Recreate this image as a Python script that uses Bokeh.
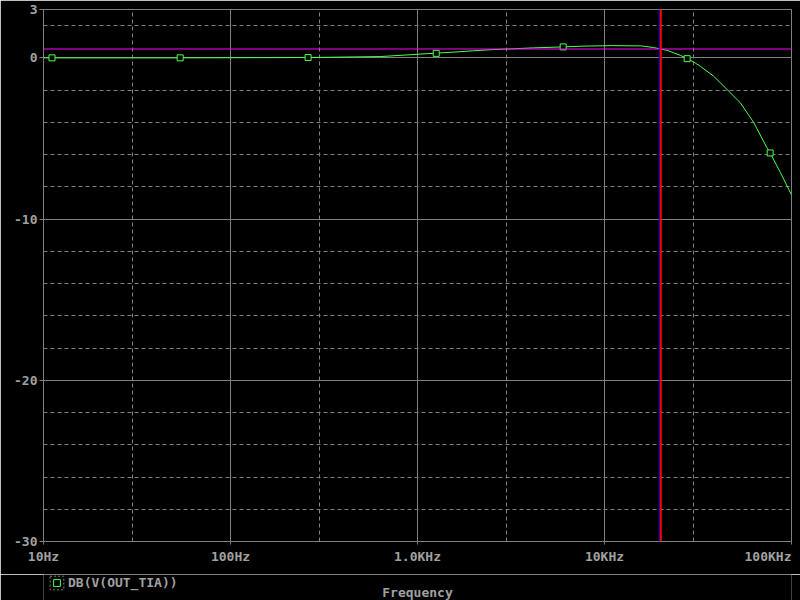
import re
from bokeh.plotting import figure
from bokeh.layouts import column
from bokeh.models import FixedTicker, Span, Legend, LegendItem, Label
from bokeh.embed import file_html
from bokeh.resources import INLINE

# ---- data (PSpice-style AC sweep) ----
freq_hz = [10, 11.1, 53.8, 260, 632, 877, 1122, 1625, 1991, 2500, 3199, 4170,
           6012, 7785, 10990, 15700, 18280, 21570, 25420, 27670, 29920, 32500,
           38300, 45200, 53200, 62700, 73800, 76900, 87100, 100000]
gain_db = [0.0, 0.0, 0.0, 0.02, 0.08, 0.18, 0.26, 0.37, 0.44, 0.51, 0.56, 0.62,
           0.68, 0.73, 0.76, 0.74, 0.64, 0.47, 0.16, -0.05, -0.25, -0.52,
           -1.13, -1.96, -2.78, -4.0, -5.56, -5.9, -7.1, -8.5]
marker_hz = [11.1, 53.8, 260, 1259, 6012, 27670, 76900]
marker_db = [0.0, 0.0, 0.02, 0.28, 0.68, -0.05, -5.9]

x_tick_vals = [10, 100, 1000, 10000, 100000]
x_tick_labels = ["10Hz", "100Hz", "1.0KHz", "10KHz", "100KHz"]
x_minor_vals = [30, 300, 3000, 30000]
y_tick_vals = [-30, -20, -10, 0, 3]
y_tick_labels = ["-30", "-20", "-10", "0", "3"]
y_minor_vals = [-28, -26, -24, -22, -18, -16, -14, -12, -8, -6, -4, -2, 2]
cursor_x_hz = 20000
cursor_x2_hz = 19600
cursor_y_db = 0.55
series_name = "DB(V(OUT_TIA))"
x_title = "Frequency"

FONT = "DejaVu Sans Mono"
FS = "13px"
TXT = "#a0a0a0"
GRID = "#808080"
GREEN = "#4cff4c"

p = figure(width=800, height=574, x_axis_type="log",
           x_range=(10, 100000), y_range=(-30, 3),
           output_backend="svg", toolbar_location=None,
           background_fill_color="#000000", border_fill_color="#000000",
           min_border_left=43, min_border_right=9,
           min_border_top=9, min_border_bottom=23)
p.outline_line_color = GRID

xt = FixedTicker(ticks=x_tick_vals, minor_ticks=x_minor_vals)
yt = FixedTicker(ticks=y_tick_vals, minor_ticks=y_minor_vals)

xa = p.xaxis[0]
ya = p.yaxis[0]
xa.ticker = xt
ya.ticker = yt
xo = {v: l for v, l in zip(x_tick_vals, x_tick_labels)}
xo[x_tick_vals[-1]] = ""
xa.major_label_overrides = xo
ya.major_label_overrides = {v: l for v, l in zip(y_tick_vals, y_tick_labels)}

for ax in (xa, ya):
    ax.axis_line_color = GRID
    ax.major_tick_line_color = GRID
    ax.major_tick_out = 4
    ax.major_tick_in = 0
    ax.minor_tick_line_color = None
    ax.major_label_text_color = TXT
    ax.major_label_text_font = FONT
    ax.major_label_text_font_size = FS
    ax.major_label_text_font_style = "bold"
xa.major_tick_out = 3
xa.major_label_standoff = 3
ya.major_label_standoff = 2

# the last tick label sits right-aligned on its tick (as in the reference)
xa.axis_label = x_tick_labels[-1]
xa.axis_label_align = "end"
xa.axis_label_orientation = 1e-9
xa.axis_label_standoff = -10
xa.axis_label_text_color = TXT
xa.axis_label_text_font = FONT
xa.axis_label_text_font_size = FS
xa.axis_label_text_font_style = "bold"

for g, t in ((p.xgrid[0], xt), (p.ygrid[0], yt)):
    g.ticker = t
    g.grid_line_color = GRID
    g.grid_line_width = 1
    g.minor_grid_line_color = GRID
    g.minor_grid_line_dash = "4 3"
    g.minor_grid_line_width = 1

# cursors
p.add_layout(Span(location=cursor_y_db, dimension="width",
                  line_color="#ff00ff", line_width=1))
p.add_layout(Span(location=cursor_x2_hz, dimension="height",
                  line_color="#0000ff", line_width=1))
p.add_layout(Span(location=cursor_x_hz, dimension="height",
                  line_color="#ff0000", line_width=2))

# trace
p.line(freq_hz, gain_db, line_color=GREEN, line_width=1)
p.scatter(marker_hz, marker_db, marker="square", size=6,
          line_color=GREEN, fill_color="#000000", line_width=1)

# ---- strip below the plot: legend + x title ----
q = figure(width=800, height=26, x_range=(0, 1), y_range=(0, 1),
           x_axis_location=None, y_axis_location=None,
           output_backend="svg", toolbar_location=None,
           background_fill_color="#000000", border_fill_color="#000000",
           min_border_left=34, min_border_right=0,
           min_border_top=0, min_border_bottom=0)
q.outline_line_color = None
for g in q.grid:
    g.visible = False
    g.grid_line_color = None
# legend proxies (their points fall outside this strip's ranges)
q_box = q.rect(marker_hz, marker_db, width=14, height=14,
               width_units="screen", height_units="screen", fill_color=None,
               line_color=GRID, line_dash="2 2", line_width=1)
q_mk = q.scatter(marker_hz, marker_db, marker="square", size=6,
                 line_color=GREEN, fill_color="#000000", line_width=1)
legend = Legend(items=[LegendItem(label=series_name, renderers=[q_box, q_mk])],
                location=(5, 9), margin=0, padding=0,
                border_line_alpha=0, background_fill_alpha=0,
                glyph_width=17, glyph_height=17, label_standoff=3,
                label_text_font=FONT, label_text_font_size=FS,
                label_text_font_style="bold", label_text_color=TXT)
q.add_layout(legend)
q.add_layout(Label(x=0.5, y=8, y_units="screen", text=x_title,
                   text_align="center", text_baseline="middle",
                   text_color=TXT, text_font=FONT, text_font_size=FS,
                   text_font_style="bold"))

layout = column(p, q, spacing=0)

html = file_html(layout, INLINE)
html = re.sub(r"<body([^>]*)>",
              r'<body\1 style="margin:0;overflow:hidden;background-color:#000000">',
              html, count=1)
open("out.html", "w").write(html)
